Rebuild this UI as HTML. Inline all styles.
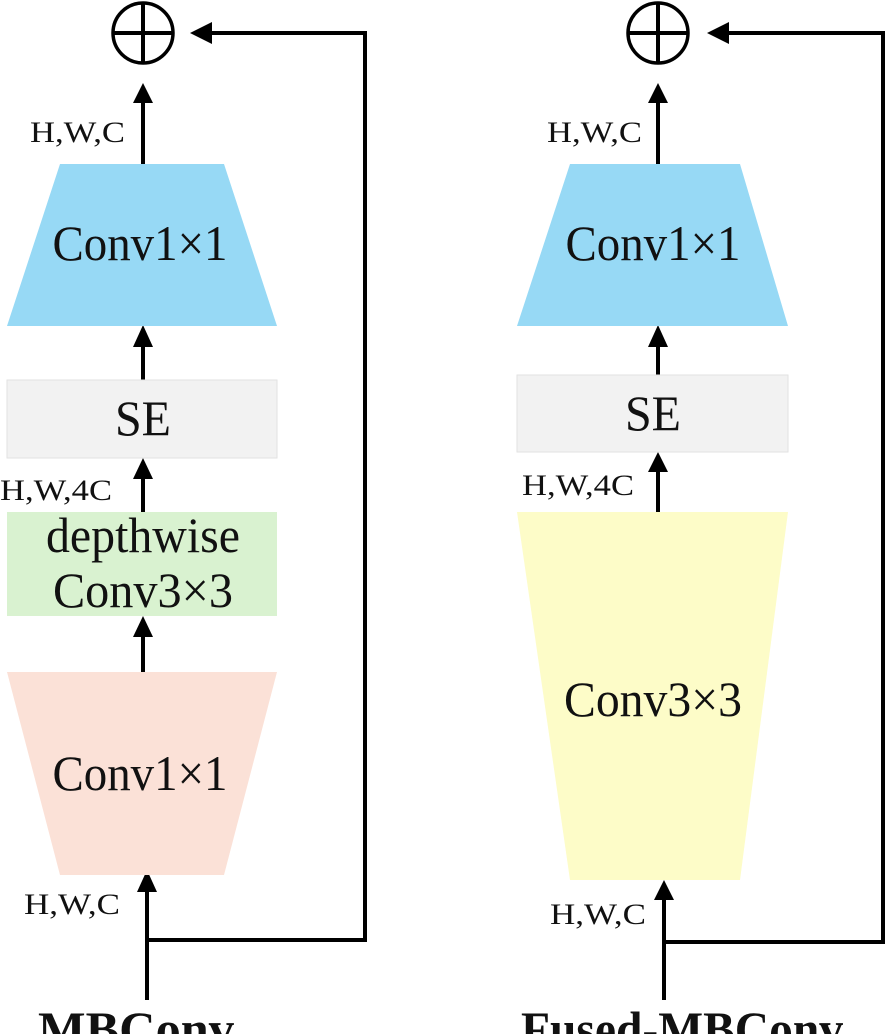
<!DOCTYPE html>
<html><head><meta charset="utf-8"><style>
html,body{margin:0;padding:0;background:#fff;}
svg{display:block;}
text{font-family:"Liberation Serif",serif;fill:#111;}
</style></head><body>
<svg width="886" height="1034" viewBox="0 0 886 1034" xmlns="http://www.w3.org/2000/svg">
<g stroke="#000" stroke-width="4" fill="none">
<circle cx="143" cy="33" r="30" stroke-width="3.5"/>
<line x1="143" y1="4" x2="143" y2="62"/>
<line x1="114" y1="33" x2="172" y2="33"/>
<polyline points="147,940 365,940 365,33 205,33"/>
<line x1="143" y1="164" x2="143" y2="100"/>
<line x1="143" y1="380" x2="143" y2="345"/>
<line x1="143" y1="512" x2="143" y2="477"/>
<line x1="143" y1="672" x2="143" y2="635"/>
<line x1="147" y1="1000" x2="147" y2="890"/>
<circle cx="658" cy="33" r="30" stroke-width="3.5"/>
<line x1="658" y1="4" x2="658" y2="62"/>
<line x1="629" y1="33" x2="687" y2="33"/>
<polyline points="664,942 883,942 883,33 722,33"/>
<line x1="658" y1="164" x2="658" y2="100"/>
<line x1="658" y1="375" x2="658" y2="345"/>
<line x1="658" y1="512" x2="658" y2="470"/>
<line x1="664" y1="1000" x2="664" y2="898"/>
</g>
<g fill="#000">
<polygon points="190,33 212,22 212,44"/>
<polygon points="143,83 133,103 153,103"/>
<polygon points="143,325 133,347 153,347"/>
<polygon points="143,458 133,479 153,479"/>
<polygon points="143,616 133,637 153,637"/>
<polygon points="147,870 137,892 157,892"/>
<polygon points="707,33 729,22 729,44"/>
<polygon points="658,83 648,103 668,103"/>
<polygon points="658,325 648,347 668,347"/>
<polygon points="658,452 648,472 668,472"/>
<polygon points="664,880 654,900 674,900"/>
</g>
<polygon points="60,164 224,164 277,326 7,326" fill="#97d9f5"/>
<rect x="7" y="380" width="270" height="78" fill="#f2f2f2" stroke="#e2e2e2" stroke-width="1"/>
<rect x="7" y="512" width="270" height="104" fill="#d9f2d0"/>
<polygon points="7,672 277,672 224,875 60,875" fill="#fbe1d7"/>
<polygon points="570,164 740,164 788,326 517,326" fill="#97d9f5"/>
<rect x="517" y="375" width="271" height="77" fill="#f2f2f2" stroke="#e2e2e2" stroke-width="1"/>
<polygon points="517,512 788,512 740,880 570,880" fill="#fdfcc8"/>
<g font-size="50" text-anchor="middle" lengthAdjust="spacingAndGlyphs">
<text x="140" y="260" textLength="175" lengthAdjust="spacingAndGlyphs">Conv1×1</text>
<text x="143" y="435" textLength="56" lengthAdjust="spacingAndGlyphs">SE</text>
<text x="143" y="552" textLength="194" lengthAdjust="spacingAndGlyphs">depthwise</text>
<text x="143" y="607" textLength="180" lengthAdjust="spacingAndGlyphs">Conv3×3</text>
<text x="140" y="790" textLength="175" lengthAdjust="spacingAndGlyphs">Conv1×1</text>
<text x="653" y="260" textLength="175" lengthAdjust="spacingAndGlyphs">Conv1×1</text>
<text x="653" y="430" textLength="56" lengthAdjust="spacingAndGlyphs">SE</text>
<text x="653" y="716" textLength="178" lengthAdjust="spacingAndGlyphs">Conv3×3</text>
</g>
<g font-size="30">
<text x="30" y="142" textLength="95" lengthAdjust="spacingAndGlyphs">H,W,C</text>
<text x="0" y="500" textLength="112" lengthAdjust="spacingAndGlyphs">H,W,4C</text>
<text x="24" y="914" textLength="96" lengthAdjust="spacingAndGlyphs">H,W,C</text>
<text x="547" y="142" textLength="95" lengthAdjust="spacingAndGlyphs">H,W,C</text>
<text x="522" y="495" textLength="112" lengthAdjust="spacingAndGlyphs">H,W,4C</text>
<text x="550" y="924" textLength="96" lengthAdjust="spacingAndGlyphs">H,W,C</text>
</g>
<g font-size="50" font-weight="bold" text-anchor="middle">
<text x="136" y="1046" textLength="196" lengthAdjust="spacingAndGlyphs">MBConv</text>
<text x="682" y="1046" textLength="322" lengthAdjust="spacingAndGlyphs">Fused-MBConv</text>
</g>
</svg>
</body></html>
